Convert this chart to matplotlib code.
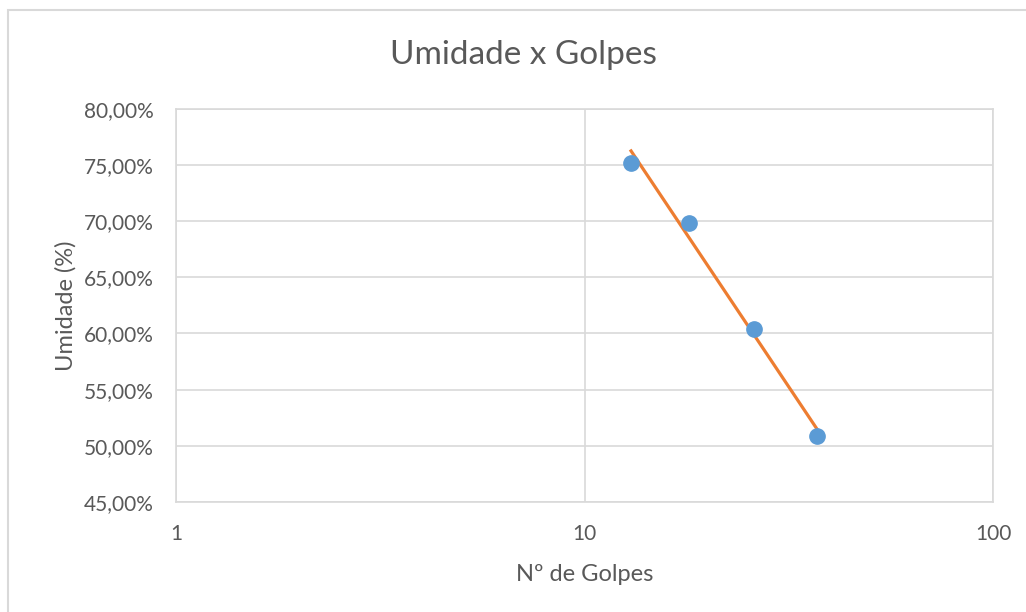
import numpy as np
import matplotlib
matplotlib.use("Agg")
import matplotlib.pyplot as plt
from matplotlib.ticker import FixedLocator, FuncFormatter, NullLocator
from matplotlib.patches import Rectangle

plt.rcParams['font.family'] = ['Lato', 'DejaVu Sans']

# Casagrande test: number of blows vs. moisture content
golpes = [13, 18, 26, 37]
umidade = [75.21, 69.82, 60.36, 50.83]  # %

y_ticks = [45, 50, 55, 60, 65, 70, 75, 80]
x_ticks = [1, 10, 100]

TEXT = '#595959'
GRID = '#d9d9d9'
BLUE = '#5b9bd5'
ORANGE = '#ed7d31'

fig = plt.figure(figsize=(10.26, 6.12), dpi=100)
ax = fig.add_axes([176 / 1026, 1 - 502 / 612, (993 - 176) / 1026, (502 - 108.7) / 612])

# chart frame
fig.patches.append(Rectangle((8 / 1026, -0.1), 1.2, 1 - 10 / 612 + 0.1,
                             transform=fig.transFigure, fill=False,
                             edgecolor=GRID, linewidth=1.5, zorder=0))

ax.set_xscale('log')
ax.set_xlim(1, 100)
ax.set_ylim(45, 80)

ax.xaxis.set_major_locator(FixedLocator(x_ticks))
ax.xaxis.set_minor_locator(NullLocator())
ax.xaxis.set_major_formatter(FuncFormatter(lambda v, p: f'{v:g}'))
ax.yaxis.set_major_locator(FixedLocator(y_ticks))
ax.yaxis.set_major_formatter(FuncFormatter(lambda v, p: f'{v:.2f}'.replace('.', ',') + '%'))

ax.grid(True, color=GRID, linewidth=1.2, zorder=0)
for s in ax.spines.values():
    s.set_color(GRID)
    s.set_linewidth(1.2)
ax.tick_params(length=0, labelsize=15, colors=TEXT)
ax.tick_params(axis='y', pad=16)
ax.tick_params(axis='x', pad=16)

# logarithmic trendline fitted to the measured points
lx = np.log(golpes)
b, a = np.polyfit(lx, umidade, 1)
xt = np.linspace(min(golpes), max(golpes), 50)
ax.plot(xt, a + b * np.log(xt), color=ORANGE, linewidth=2.3, zorder=3)

ax.plot(golpes, umidade, 'o', color=BLUE, markersize=11, zorder=4, clip_on=False)

fig.text(523 / 1026, 1 - 64.5 / 612, 'Umidade x Golpes', fontsize=24, color=TEXT,
         ha='center', va='baseline')
ax.set_xlabel('Nº de Golpes', fontsize=17, color=TEXT, labelpad=14)
ax.set_ylabel('Umidade (%)', fontsize=17, color=TEXT, labelpad=5)

fig.savefig('out.png', dpi=100, facecolor='white')
